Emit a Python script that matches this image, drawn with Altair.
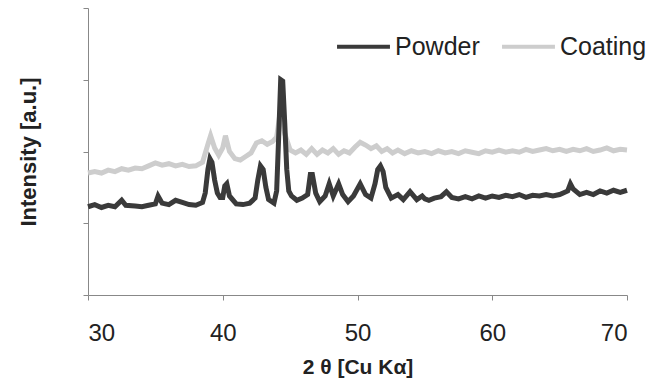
import altair as alt
import pandas as pd

powder_x = [30.0, 30.5, 31.0, 31.5, 32.0, 32.5, 32.8, 33.5, 34.0, 34.5, 35.0, 35.2, 35.5, 36.0, 36.5,
            37.0, 37.5, 38.0, 38.5, 38.7, 38.9, 39.05, 39.2, 39.4, 39.6, 39.8, 40.0, 40.15, 40.3, 40.5,
            41.0, 41.5, 42.0, 42.4, 42.6, 42.8, 43.0, 43.2, 43.4, 43.8, 44.0, 44.15, 44.3, 44.45, 44.6,
            44.75, 44.9, 45.1, 45.5, 45.9, 46.3, 46.5, 46.65, 46.9, 47.2, 47.6, 47.9, 48.2, 48.6, 48.9,
            49.3, 49.7, 50.2, 50.6, 51.0, 51.3, 51.5, 51.7, 51.9, 52.1, 52.5, 53.0, 53.4, 53.9, 54.4,
            54.8, 55.0, 55.3, 55.7, 56.2, 56.6, 57.0, 57.5, 58.0, 58.5, 59.0, 59.5, 60.0, 60.5, 61.0,
            61.5, 62.0, 62.5, 63.0, 63.5, 64.0, 64.5, 65.0, 65.6, 65.8, 66.0, 66.5, 67.0, 67.5, 68.0,
            68.5, 69.0, 69.5, 70.0]
powder_y = [1.23, 1.26, 1.22, 1.25, 1.23, 1.32, 1.25, 1.24, 1.23, 1.25, 1.27, 1.38, 1.28, 1.26, 1.32,
            1.29, 1.26, 1.25, 1.29, 1.42, 1.75, 1.90, 1.85, 1.60, 1.42, 1.36, 1.36, 1.52, 1.55, 1.38,
            1.27, 1.26, 1.28, 1.35, 1.60, 1.80, 1.75, 1.50, 1.33, 1.28, 1.45, 2.20, 3.00, 2.98, 2.40,
            1.75, 1.45, 1.38, 1.32, 1.35, 1.40, 1.68, 1.68, 1.42, 1.30, 1.38, 1.55, 1.38, 1.55, 1.40,
            1.30, 1.38, 1.55, 1.40, 1.35, 1.55, 1.75, 1.80, 1.72, 1.50, 1.35, 1.40, 1.33, 1.44, 1.33,
            1.38, 1.34, 1.32, 1.35, 1.37, 1.44, 1.36, 1.34, 1.37, 1.34, 1.38, 1.35, 1.38, 1.36, 1.39,
            1.37, 1.40, 1.36, 1.39, 1.38, 1.40, 1.38, 1.40, 1.45, 1.55, 1.48, 1.40, 1.43, 1.40, 1.45,
            1.42, 1.46, 1.43, 1.46]

coating_x = [30.0, 30.5, 31.0, 31.5, 32.0, 32.5, 33.0, 33.5, 34.0, 34.5, 35.0, 35.5, 36.0, 36.5, 37.0,
             37.5, 38.0, 38.5, 38.9, 39.1, 39.4, 39.7, 40.0, 40.2, 40.5, 40.9, 41.3, 41.7, 42.1, 42.5,
             42.9, 43.3, 43.7, 44.0, 44.3, 44.6, 45.0, 45.4, 45.8, 46.2, 46.6, 47.0, 47.4, 47.8, 48.2,
             48.6, 49.0, 49.4, 49.8, 50.2, 50.6, 51.0, 51.4, 51.8, 52.2, 52.6, 53.0, 53.5, 54.0, 54.5,
             55.0, 55.5, 56.0, 56.5, 57.0, 57.5, 58.0, 58.5, 59.0, 59.5, 60.0, 60.5, 61.0, 61.5, 62.0,
             62.5, 63.0, 63.5, 64.0, 64.5, 65.0, 65.5, 66.0, 66.5, 67.0, 67.5, 68.0, 68.5, 69.0, 69.5,
             70.0]
coating_y = [1.70, 1.72, 1.70, 1.74, 1.72, 1.76, 1.74, 1.77, 1.76, 1.80, 1.84, 1.81, 1.83, 1.80, 1.82,
             1.79, 1.80, 1.85, 2.10, 2.22, 2.05, 1.95, 2.05, 2.22, 2.00, 1.90, 1.88, 1.93, 1.98, 2.12,
             2.15, 2.10, 2.14, 2.20, 2.60, 2.25, 2.02, 1.98, 2.02, 1.96, 2.04, 1.96, 2.02, 1.98, 2.04,
             1.96, 2.01, 1.98, 2.06, 2.13, 2.09, 2.04, 2.08, 2.00, 2.04, 1.98, 2.02, 1.97, 2.01, 1.98,
             2.00, 1.97, 2.01, 1.98, 2.00, 1.97, 2.01, 1.99, 1.97, 2.01, 1.99, 2.02, 1.99, 2.01, 1.99,
             2.03, 2.00, 2.02, 2.04, 2.01, 2.03, 2.00, 2.03, 2.01, 2.04, 2.00, 2.02, 2.05, 2.01, 2.03,
             2.02]

series = ["Powder", "Coating"]
colors = ["#3a3a3a", "#cdcdcd"]

df_p = pd.DataFrame({"x": powder_x, "y": powder_y, "s": "Powder"})
df_c = pd.DataFrame({"x": coating_x, "y": coating_y, "s": "Coating"})

FONT = "Liberation Sans"

x_enc = alt.X("x:Q", scale=alt.Scale(domain=[30, 70], nice=False, zero=False),
              axis=alt.Axis(title="2 θ [Cu Kα]", values=[30, 40, 50, 60, 70], format="d",
                            labelFontSize=24, labelColor="#222222", labelFont=FONT,
                            labelPadding=21, tickSize=5, tickColor="#888888",
                            domainColor="#888888", grid=False,
                            titleFont=FONT, titleFontSize=21, titleFontWeight="bold",
                            titleColor="#222222", titlePadding=11))
y_enc = alt.Y("y:Q", scale=alt.Scale(domain=[0, 4], nice=False),
              axis=alt.Axis(title="Intensity [a.u.]", values=[0, 1, 2, 3, 4], labels=False,
                            tickSize=5, tickColor="#888888", domainColor="#888888", grid=False,
                            titleFont=FONT, titleFontSize=22, titleFontWeight="bold",
                            titleColor="#222222", titlePadding=42))
color_enc = alt.Color("s:N", scale=alt.Scale(domain=series, range=colors),
                      legend=alt.Legend(title=None, orient="none", legendX=247, legendY=10,
                                        direction="horizontal", symbolType="stroke",
                                        symbolSize=2800, symbolStrokeWidth=4,
                                        labelFont=FONT, labelFontSize=25, labelColor="#222222",
                                        labelOffset=3, columnPadding=14, padding=0))

coat = alt.Chart(df_c).mark_line(strokeWidth=5).encode(x=x_enc, y=y_enc, color=color_enc, order="x:Q")
powd = alt.Chart(df_p).mark_line(strokeWidth=5).encode(x=x_enc, y=y_enc, color=color_enc, order="x:Q")

chart = alt.layer(coat, powd).properties(
    width=539, height=287,
    autosize=alt.AutoSizeParams(type="none"),
    padding={"left": 80, "top": 0, "right": 27, "bottom": 84},
).configure_view(stroke=None)

chart.save("out.html", embed_options={"renderer": "svg", "actions": False})
